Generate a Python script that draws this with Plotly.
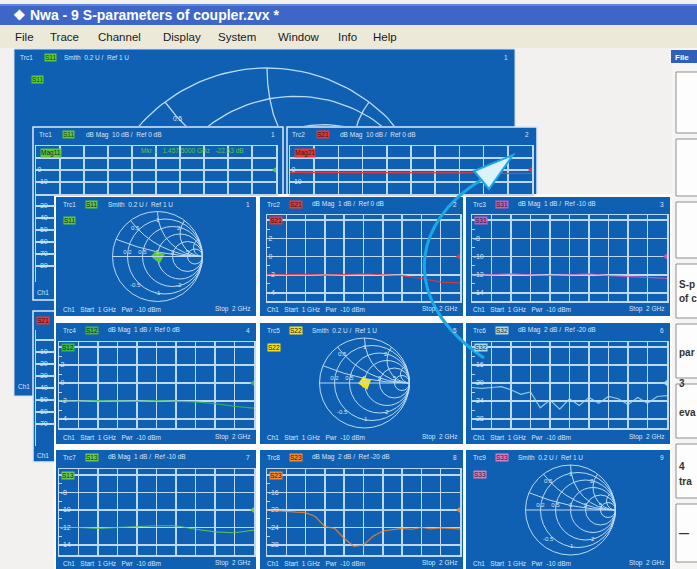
import numpy as np
import plotly.graph_objects as go

W, H = 697, 569


def fx(x):
    return x / W


def fy(y):
    return 1 - y / H


# ---------------- sweep data (1 GHz .. 2 GHz) ----------------
freq = [1.0, 1.1, 1.2, 1.3, 1.4, 1.5, 1.6, 1.7, 1.8, 1.9, 2.0]
freq_fine = [1.0, 1.05, 1.1, 1.15, 1.2, 1.25, 1.3, 1.35, 1.4, 1.45, 1.5,
             1.55, 1.6, 1.65, 1.7, 1.75, 1.8, 1.85, 1.9, 1.95, 2.0]

s21_db = [-2.0, -2.0, -1.95, -2.05, -2.0, -1.9, -2.0, -2.1, -2.4, -2.8, -2.9]
s12_db = [-2.0, -2.05, -1.95, -2.0, -2.05, -1.95, -2.0, -2.1, -2.3, -2.6, -2.8]
s31_db = [-12.1, -12.0, -11.9, -12.0, -12.1, -12.0, -11.9, -12.1, -12.2, -12.3, -12.4]
s13_db = [-12.0, -12.0, -12.1, -12.0, -11.9, -11.8, -11.8, -12.2, -12.5, -12.6, -12.3]
s32_db = [-21.0, -21.2, -21.0, -20.8, -21.5, -22.5, -22.0, -25.5, -23.8, -25.8, -23.5,
          -25.0, -23.2, -24.5, -23.0, -23.5, -24.8, -23.2, -24.5, -23.0, -22.8]
s23_db = [-20.0, -20.2, -20.3, -20.5, -20.6, -21.5, -23.8, -24.2, -26.5, -28.3, -28.0,
          -26.0, -24.8, -24.5, -24.2, -24.4, -24.0, -24.3, -24.1, -24.2, -24.3]

# marker 1 of the S11 dB Mag trace
mkr1_freq = 1.4575
mkr1_db = -22.63

# normalised impedance of the reflection traces (Smith display)
s11_re = [1.08, 0.93, 1.12, 0.97, 0.90, 1.05, 1.14, 0.95, 1.02]
s11_im = [0.06, -0.05, -0.08, 0.10, 0.02, -0.11, 0.04, 0.08, -0.06]
s22_re = [1.10, 0.92, 1.13, 0.96, 0.91, 1.06, 1.12, 0.94, 1.01]
s22_im = [0.07, -0.06, -0.09, 0.09, 0.01, -0.10, 0.05, 0.09, -0.05]
s33_re = [1.02, 0.98, 1.03, 0.99, 1.01]
s33_im = [0.01, -0.02, 0.00, 0.02, -0.01]

# reactance values labelled inside the Smith diagrams
smith_x_labels = [0.5, 1, 2, -0.5, -1, -2]

# ---------------- colours ----------------
BLUE = "#0f5fb2"
GRID = "#bcd9f5"
LBL = "#d6e7f9"
C_S11 = "#5cc83a"
C_S21 = "#e8383a"
C_S31 = "#c65cc0"
C_S12 = "#3cb84a"
C_S22 = "#f2e21c"
C_S32 = "#a8dcea"
C_S13 = "#6cc850"
C_S23 = "#f08a2a"
C_S33 = "#d67cc8"
FONT = "Liberation Sans, Arial, sans-serif"
GW = 1.5

shapes = []
annotations = []


def rect(x0, y0, x1, y1, fill, line=None, lw=0, layer="below"):
    shapes.append(dict(type="rect", xref="paper", yref="paper",
                       x0=fx(x0), x1=fx(x1), y0=fy(y1), y1=fy(y0),
                       fillcolor=fill, layer=layer,
                       line=dict(color=line or fill, width=lw)))


def text(x, y, s, size=7, color=LBL, anchor="left", bold=False, bg=None, family=FONT):
    annotations.append(dict(x=fx(x), y=fy(y), xref="paper", yref="paper",
                            text=("<b>%s</b>" % s) if bold else s, showarrow=False,
                            xanchor=anchor, yanchor="middle",
                            font=dict(size=size, color=color, family=family),
                            bgcolor=bg, borderpad=0))


def y_range(vals, l1, l5, gt, gb):
    v1, v5 = float(vals[0]), float(vals[-1])
    k = (v5 - v1) / (l5 - l1)
    return [v1 + k * (gb - l1), v1 + k * (gt - l1)]


def fmt(v):
    return "%g" % v


def gamma(z):
    return (z - 1) / (z + 1)


# ---------------- application frame ----------------
rect(0, 4, W, 25, "#3d66c8")
rect(0, 4, W, 6, "#5b86dc")
text(12, 15, "❖ Nwa - 9 S-parameters of coupler.zvx *", size=14, color="white", bold=True)
rect(0, 25, W, 48, "#ece9d8")
for lbl, x in [("File", 14), ("Trace", 49), ("Channel", 97), ("Display", 162), ("System", 217),
               ("Window", 277), ("Info", 337), ("Help", 372)]:
    text(x, 37, lbl, size=11.5, color="#1a1a1a")

# right-hand softkey bar
rect(672, 48, W, H, "#f6f5f4")
rect(671, 50, W, 63, "#2f5fb8")
text(674, 57, "File", size=8, color="white", bold=True)
for (y0, y1) in [(72, 133), (139, 196), (202, 258), (264, 318), (324, 378),
                 (384, 438), (444, 498), (504, 562)]:
    rect(676, y0, W + 2, y1, "#fdfdfd", line="#8f8f8f", lw=1)
for s, y in [("S-p", 284), ("of c", 298), ("par", 352), ("3", 383), ("eva", 412),
             ("4", 466), ("tra", 481), ("—", 533)]:
    text(678, y, s, size=10, color="#333", bold=True)

# ---------------- background windows ----------------
rect(14, 49, 515, 396, BLUE, line="#cfe0f2", lw=1)
text(19, 57, "Trc1", size=6.5)
text(44, 57, "S11", size=6.5, color="#1d3d10", bg=C_S11)
text(63, 57, "Smith  0.2 U /  Ref 1 U", size=6.5)
text(509, 57, "1", size=6.5, anchor="right")
text(31, 80, "S11", size=6.5, color="#1d3d10", bg=C_S11)
text(17, 386, "Ch1", size=6.5)

rect(33, 127, 283, 300, BLUE, line="#dce9f6", lw=1.5)
text(38, 135, "Trc1", size=6.5)
text(62, 135, "S11", size=6.5, color="#1d3d10", bg=C_S11)
text(85, 135, "dB Mag  10 dB /  Ref 0 dB", size=6.5)
text(276, 135, "1", size=6.5, anchor="right")
text(36, 293, "Ch1", size=6.5)

rect(287, 127, 537, 300, BLUE, line="#dce9f6", lw=1.5)
text(291, 135, "Trc2", size=6.5)
text(316, 135, "S21", size=6.5, color="#3a0808", bg=C_S21)
text(339, 135, "dB Mag  10 dB /  Ref 0 dB", size=6.5)
text(530, 135, "2", size=6.5, anchor="right")

rect(33, 311, 256, 462, BLUE, line="#dce9f6", lw=1.5)
text(36, 320, "S21", size=6.5, color="#3a0808", bg=C_S21)
text(36, 455, "Ch1", size=6.5)

# ---------------- front 3x3 grid of diagrams ----------------
rect(54, 194, 672, H + 2, "#fcfcfc")

ROWS = [  # panel top, panel bottom, first grid line, last grid line, grid top, grid bottom
    (197, 316, 220, 293, 215, 301),
    (323, 444, 347, 419, 342, 428),
    (450, 570, 475, 545, 469, 555),
]
COLS = [  # panel left, panel right, grid left, grid right
    (56, 256, 59, 254),
    (260, 463, 267, 460),
    (466, 670, 472, 667),
]

# trace name, colour, kind, scale text, row, col, grid line values
PANELS = [
    ("S11", C_S11, "smith", "Smith  0.2 U /  Ref 1 U", 0, 0, None),
    ("S21", C_S21, "db", "dB Mag  1 dB /  Ref 0 dB", 0, 1, [4, 2, 0, -2, -4]),
    ("S31", C_S31, "db", "dB Mag  1 dB /  Ref -10 dB", 0, 2, [-6, -8, -10, -12, -14]),
    ("S12", C_S12, "db", "dB Mag  1 dB /  Ref 0 dB", 1, 0, [4, 2, 0, -2, -4]),
    ("S22", C_S22, "smith", "Smith  0.2 U /  Ref 1 U", 1, 1, None),
    ("S32", C_S32, "db", "dB Mag  2 dB /  Ref -20 dB", 1, 2, [-12, -16, -20, -24, -28]),
    ("S13", C_S13, "db", "dB Mag  1 dB /  Ref -10 dB", 2, 0, [-6, -8, -10, -12, -14]),
    ("S23", C_S23, "db", "dB Mag  2 dB /  Ref -20 dB", 2, 1, [-12, -16, -20, -24, -28]),
    ("S33", C_S33, "smith", "Smith  0.2 U /  Ref 1 U", 2, 2, None),
]
REF = {"S21": 0, "S31": -10, "S12": 0, "S32": -20, "S13": -10, "S23": -20}
TRACES = {"S21": (freq, s21_db), "S31": (freq, s31_db), "S12": (freq, s12_db),
          "S13": (freq, s13_db), "S32": (freq_fine, s32_db), "S23": (freq_fine, s23_db)}
SMITH = {"S11": (s11_re, s11_im, 6), "S22": (s22_re, s22_im, 6), "S33": (s33_re, s33_im, 1.5)}

fig = go.Figure()
layout = {}


def grid_xaxis(gl, gr, ya, tickvals):
    return dict(domain=[fx(gl), fx(gr)], anchor=ya, range=[1, 2], tickvals=tickvals,
                showticklabels=False, ticks="", showgrid=True, gridcolor=GRID, gridwidth=GW,
                showline=True, linecolor=GRID, linewidth=GW, mirror=True, zeroline=False,
                fixedrange=True)


def grid_yaxis(gt, gb, xa, rng, vals, ticktext, minor=None):
    d = dict(domain=[fy(gb), fy(gt)], anchor=xa, range=rng, tickvals=vals, ticktext=ticktext,
             ticklabelposition="inside", ticks="", tickfont=dict(size=7, color=LBL, family=FONT),
             showgrid=True, gridcolor=GRID, gridwidth=GW, showline=True, linecolor=GRID,
             linewidth=GW, mirror=True, zeroline=False, fixedrange=True)
    if minor:
        d["minor"] = dict(tickvals=minor, ticks="inside", ticklen=3, tickcolor=GRID, showgrid=False)
    return d


axis_n = 1
smith_n = 1
for idx, (name, col, kind, scale, r, c, vals) in enumerate(PANELS):
    pt, pb, l1, l5, gt, gb = ROWS[r]
    pl, pr, gl, gr = COLS[c]
    rect(pl, pt, pr, pb, BLUE)
    hy = pt + 7
    text(pl + 6, hy, "Trc%d" % (idx + 1), size=6.5)
    text(pl + 29, hy, name, size=6.5, color="#202020", bg=col)
    text(pl + 51, hy, scale, size=6.5)
    text(pr - 5, hy, str(idx + 1), size=6.5, anchor="right")
    text(pl + 6, pb - 7, "Ch1   Start  1 GHz   Pwr  -10 dBm", size=6.5)
    text(pr - 5, pb - 7, "Stop  2 GHz", size=6.5, anchor="right")

    if kind == "db":
        axis_n += 1
        xa, ya = "x%d" % axis_n, "y%d" % axis_n
        minor = [(vals[i] + vals[i + 1]) / 2 for i in range(4)]
        # the top grid line carries the trace label box instead of a number
        ticktext = [""] + [fmt(v) for v in vals[1:]]
        layout["xaxis%d" % axis_n] = grid_xaxis(gl, gr, ya, freq)
        layout["yaxis%d" % axis_n] = grid_yaxis(gt, gb, xa, y_range(vals, l1, l5, gt, gb),
                                                vals, ticktext, minor)
        fx_, fy_ = TRACES[name]
        fig.add_trace(go.Scatter(x=fx_, y=fy_, xaxis=xa, yaxis=ya, mode="lines",
                                 line=dict(color=col, width=1.2), opacity=0.85,
                                 showlegend=False, hoverinfo="skip"))
        fig.add_trace(go.Scatter(x=[2.0], y=[REF[name]], xaxis=xa, yaxis=ya, mode="markers",
                                 marker=dict(symbol="triangle-left", size=8, color=col),
                                 cliponaxis=False, showlegend=False, hoverinfo="skip"))
        text(gl + 2, l1, name, size=6.5, color="#202020", bg=col)
    else:
        key = "smith" if smith_n == 1 else "smith%d" % smith_n
        cx, cy = (gl + gr) / 2 + 1, (l1 + l5) / 2
        rad = 45
        layout[key] = dict(
            domain=dict(x=[fx(cx - rad), fx(cx + rad)], y=[fy(cy + rad), fy(cy - rad)]),
            bgcolor="rgba(0,0,0,0)",
            realaxis=dict(tickvals=[0.2, 0.5, 1, 2, 5], gridcolor=GRID, linecolor=GRID,
                          tickangle=0, ticks="", tickfont=dict(size=6, color=LBL, family=FONT)),
            imaginaryaxis=dict(tickvals=[0.2, 0.5, 1, 2, 5], gridcolor=GRID, linecolor=GRID,
                               ticks="", showticklabels=False))
        re_, im_, w_ = SMITH[name]
        fig.add_trace(go.Scattersmith(real=re_, imag=im_, subplot=key, mode="lines",
                                      line=dict(color=col, width=w_),
                                      showlegend=False, hoverinfo="skip"))
        # reactance labels just inside the outer circle
        for xv in smith_x_labels:
            g = gamma(1j * xv) * 0.8
            text(cx + g.real * rad, cy - g.imag * rad, fmt(xv), size=6, anchor="center")
        text(pl + 7, pt + 24, name, size=6.5, color="#202020", bg=col)
        smith_n += 1


# ---------------- visible parts of the background diagrams ----------------
def smith_grid(r_vals, x_vals):
    """Constant-resistance circles and constant-reactance arcs of a Smith chart."""
    xs, ys = [], []
    t = np.concatenate([-np.logspace(2.5, -3, 300), [0.0], np.logspace(-3, 2.5, 300)])
    for rv in r_vals:
        g = gamma(rv + 1j * t)
        xs += list(g.real) + [None]
        ys += list(g.imag) + [None]
    rr = np.concatenate([[0.0], np.logspace(-3, 2.5, 300)])
    for xv in x_vals:
        g = gamma(rr + 1j * xv)
        xs += list(g.real) + [None]
        ys += list(g.imag) + [None]
    return xs, ys


SC_X, SC_Y, SC_R = 267, 238, 170
gx, gy = smith_grid([0, 0.2, 0.5, 1, 2], [0.2, 0.5, 1, 2, 5, -0.2, -0.5, -1, -2, -5])
layout["xaxis"] = dict(domain=[fx(15), fx(514)], anchor="y",
                       range=[(15 - SC_X) / SC_R, (514 - SC_X) / SC_R], visible=False, fixedrange=True)
layout["yaxis"] = dict(domain=[fy(126), fy(64)], anchor="x",
                       range=[(SC_Y - 126) / SC_R, (SC_Y - 64) / SC_R], visible=False, fixedrange=True)
fig.add_trace(go.Scatter(x=gx, y=gy, xaxis="x", yaxis="y", mode="lines",
                         line=dict(color=GRID, width=1.3), showlegend=False, hoverinfo="skip"))
g05 = gamma(0.5j) * 0.88
text(SC_X + g05.real * SC_R, SC_Y - g05.imag * SC_R, "0.5", size=6.5, anchor="center")

# upper part of the two background dB Mag diagrams (10 dB / div)
bg_vals = [10, 0, -10, -20, -30]
BG = [("x20", "y20", 36, 276, 146, 194, None, C_S11, "Mag11"),
      ("x21", "y21", 290, 532, 146, 194, s21_db, C_S21, "Mag21")]
for xa, ya, gl, gr, gt, gb, ys_, col, lab in BG:
    layout["xaxis%s" % xa[1:]] = grid_xaxis(gl, gr, ya, freq)
    layout["yaxis%s" % ya[1:]] = grid_yaxis(gt, gb, xa, y_range(bg_vals, 158, 206, gt, gb),
                                            bg_vals, [""] + [fmt(v) for v in bg_vals[1:]])
    if ys_ is not None:
        fig.add_trace(go.Scatter(x=freq, y=ys_, xaxis=xa, yaxis=ya, mode="lines",
                                 line=dict(color=col, width=1.2), showlegend=False, hoverinfo="skip"))
    fig.add_trace(go.Scatter(x=[2.0], y=[0], xaxis=xa, yaxis=ya, mode="markers",
                             marker=dict(symbol="triangle-left", size=8, color=col),
                             cliponaxis=False, showlegend=False, hoverinfo="skip"))
    text(gl + 4, 153, lab, size=6.5, color="#202020", bg=col)
text(140, 151, "Mkr 1   1.457 5000 GHz   -22.63 dB", size=6.5, color=C_S11)
annotations.append(dict(x=mkr1_freq, y=mkr1_db, xref="x20", yref="y20", text="▼",
                        showarrow=False, yshift=7, font=dict(size=9, color=C_S11)))

# left-hand strip: lower grid lines of the background S11 dB Mag diagram
strip_vals = [-30, -40, -50, -60, -70, -80]
layout["xaxis22"] = dict(domain=[fx(36), fx(55)], anchor="y22", range=[1, 1.08],
                         visible=False, fixedrange=True)
layout["yaxis22"] = grid_yaxis(194, 282, "x22", y_range(bg_vals, 158, 206, 194, 282),
                               strip_vals, [fmt(v) for v in strip_vals])
layout["yaxis22"]["mirror"] = False
fig.add_trace(go.Scatter(x=[1.0], y=[-30], xaxis="x22", yaxis="y22", mode="markers",
                         marker=dict(size=1, color="rgba(0,0,0,0)"), showlegend=False, hoverinfo="skip"))

# left-hand strip of the partly hidden S21 diagram below it
lo_vals = [0, -10, -20, -30, -40, -50, -60, -70]
layout["xaxis23"] = dict(domain=[fx(36), fx(55)], anchor="y23", range=[1, 1.08],
                         visible=False, fixedrange=True)
layout["yaxis23"] = grid_yaxis(330, 446, "x23", y_range(lo_vals, 340, 424, 330, 446),
                               lo_vals, [""] + [fmt(v) for v in lo_vals[1:]])
layout["yaxis23"]["mirror"] = False
fig.add_trace(go.Scatter(x=[1.0], y=[0], xaxis="x23", yaxis="y23", mode="markers",
                         marker=dict(size=1, color="rgba(0,0,0,0)"), showlegend=False, hoverinfo="skip"))

# ---------------- curved arrow over the diagrams ----------------
p = lambda x, y: "%.5f,%.5f" % (fx(x), fy(y))
shapes.append(dict(type="path", xref="paper", yref="paper", layer="above",
                   path="M %s C %s %s %s" % (p(484, 358), p(398, 300), p(412, 222), p(481, 180)),
                   line=dict(color="#1ca8e6", width=3)))
shapes.append(dict(type="path", xref="paper", yref="paper", layer="above",
                   path="M %s L %s L %s Z" % (p(513, 155), p(474, 171), p(489, 189)),
                   fillcolor="#dcf2fb", line=dict(color="#1ca8e6", width=2)))

fig.update_layout(
    width=W, height=H, autosize=False, margin=dict(l=0, r=0, t=0, b=0),
    paper_bgcolor="#f2f1f0", plot_bgcolor="rgba(0,0,0,0)",
    shapes=shapes, annotations=annotations, showlegend=False,
    **layout)

fig.write_html("out.html", config=dict(displayModeBar=False, staticPlot=True))
